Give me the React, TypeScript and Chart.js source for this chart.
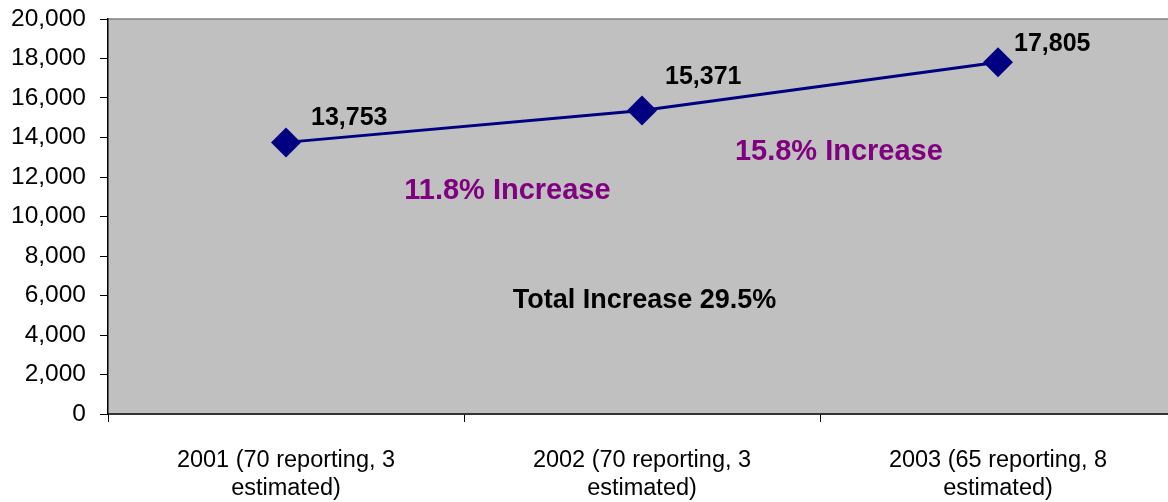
import React, { useEffect, useRef } from 'react';
import { Chart, registerables } from 'chart.js';

Chart.register(...registerables);

const categories: string[][] = [
  ['2001 (70 reporting, 3', 'estimated)'],
  ['2002 (70 reporting, 3', 'estimated)'],
  ['2003 (65 reporting, 8', 'estimated)'],
];
const totals: number[] = [13753, 15371, 17805];
const yMin = 0;
const yMax = 20000;
const yStep = 2000;
const noteTexts: string[] = ['11.8% Increase', '15.8% Increase', 'Total Increase 29.5%'];

const FONT = "'Liberation Sans', Arial, sans-serif";

const zeroPad = (scale: any) => {
  scale.paddingLeft = 0;
  scale.paddingRight = 0;
  scale.paddingTop = 0;
  scale.paddingBottom = 0;
};

const overlayPlugin = {
  id: 'overlay',
  beforeDraw(chart: any) {
    const { ctx, chartArea } = chart;
    ctx.save();
    ctx.fillStyle = '#C0C0C0';
    ctx.fillRect(chartArea.left, chartArea.top, chartArea.right - chartArea.left, chartArea.bottom - chartArea.top);
    ctx.strokeStyle = '#808080';
    ctx.lineWidth = 1.5;
    ctx.beginPath();
    ctx.moveTo(chartArea.left, chartArea.top);
    ctx.lineTo(chartArea.right, chartArea.top);
    ctx.stroke();
    ctx.restore();
  },
  afterDatasetsDraw(chart: any, _args: any, opts: any) {
    const { ctx } = chart;
    const meta = chart.getDatasetMeta(0);
    const xs = chart.scales.x;
    const ys = chart.scales.y;
    ctx.save();
    ctx.font = `bold 25px ${FONT}`;
    ctx.fillStyle = '#000000';
    ctx.textAlign = 'left';
    ctx.textBaseline = 'middle';
    meta.data.forEach((pt: any, i: number) => {
      const off = opts.labelOffsets[i];
      ctx.fillText(totals[i].toLocaleString('en-US'), pt.x + off[0], pt.y + off[1]);
    });
    ctx.textAlign = 'center';
    noteTexts.forEach((t, i) => {
      const n = opts.notes[i];
      ctx.font = `bold ${n.size}px ${FONT}`;
      ctx.fillStyle = n.color;
      ctx.fillText(t, xs.getPixelForValue(n.x), ys.getPixelForValue(n.y));
    });
    ctx.restore();
  },
};

export default function App() {
  const ref = useRef<HTMLCanvasElement | null>(null);

  useEffect(() => {
    if (!ref.current) return;
    const chart = new Chart(ref.current, {
      type: 'line',
      data: {
        labels: categories,
        datasets: [
          {
            data: totals,
            borderColor: '#000080',
            backgroundColor: '#000080',
            borderWidth: 3,
            pointStyle: 'rectRot',
            pointRadius: 15,
            pointHoverRadius: 15,
            pointBorderWidth: 0,
            pointBackgroundColor: '#000080',
            fill: false,
            tension: 0,
            clip: false as any,
          },
        ],
      },
      options: {
        animation: false,
        responsive: false,
        devicePixelRatio: 1,
        layout: { autoPadding: false, padding: { top: 19, left: 0, right: 0, bottom: 0 } },
        plugins: {
          legend: { display: false },
          tooltip: { enabled: false },
          overlay: {
            labelOffsets: [[25, -24], [23, -33], [16, -18]],
            notes: [
              { x: 0.622, y: 11316, color: '#800080', size: 29 },
              { x: 1.553, y: 13266, color: '#800080', size: 29 },
              { x: 1.007, y: 5747, color: '#000000', size: 27 },
            ],
          },
        } as any,
        scales: {
          x: {
            type: 'category',
            offset: true,
            afterFit(scale: any) {
              scale.height = 88;
              zeroPad(scale);
            },
            grid: {
              offset: true,
              drawOnChartArea: false,
              drawTicks: true,
              tickLength: 8,
              tickWidth: 1,
              tickColor: '#000000',
            },
            border: { display: true, color: '#333333', width: 2 },
            ticks: {
              color: '#000000',
              font: { family: FONT, size: 23.5, lineHeight: 1.19 },
              padding: 25,
              maxRotation: 0,
              minRotation: 0,
              autoSkip: false,
            },
          },
          y: {
            min: yMin,
            max: yMax,
            afterFit(scale: any) {
              scale.width = 108;
              zeroPad(scale);
            },
            grid: {
              drawOnChartArea: false,
              drawTicks: true,
              tickLength: 8,
              tickWidth: 1,
              tickColor: '#000000',
            },
            border: { display: true, color: '#000000', width: 1.5 },
            ticks: {
              stepSize: yStep,
              color: '#000000',
              font: { family: FONT, size: 24.5 },
              padding: 14,
              callback: (v: any) => Number(v).toLocaleString('en-US'),
            },
          },
        },
      },
      plugins: [overlayPlugin],
    });
    return () => chart.destroy();
  }, []);

  return (
    <div style={{ position: 'absolute', left: 0, top: 0, width: 1168, height: 502, overflow: 'hidden', background: '#ffffff' }}>
      <div style={{ width: 1176, height: 502 }}>
        <canvas ref={ref} width={1176} height={502} style={{ width: 1176, height: 502, display: 'block' }} />
      </div>
    </div>
  );
}
